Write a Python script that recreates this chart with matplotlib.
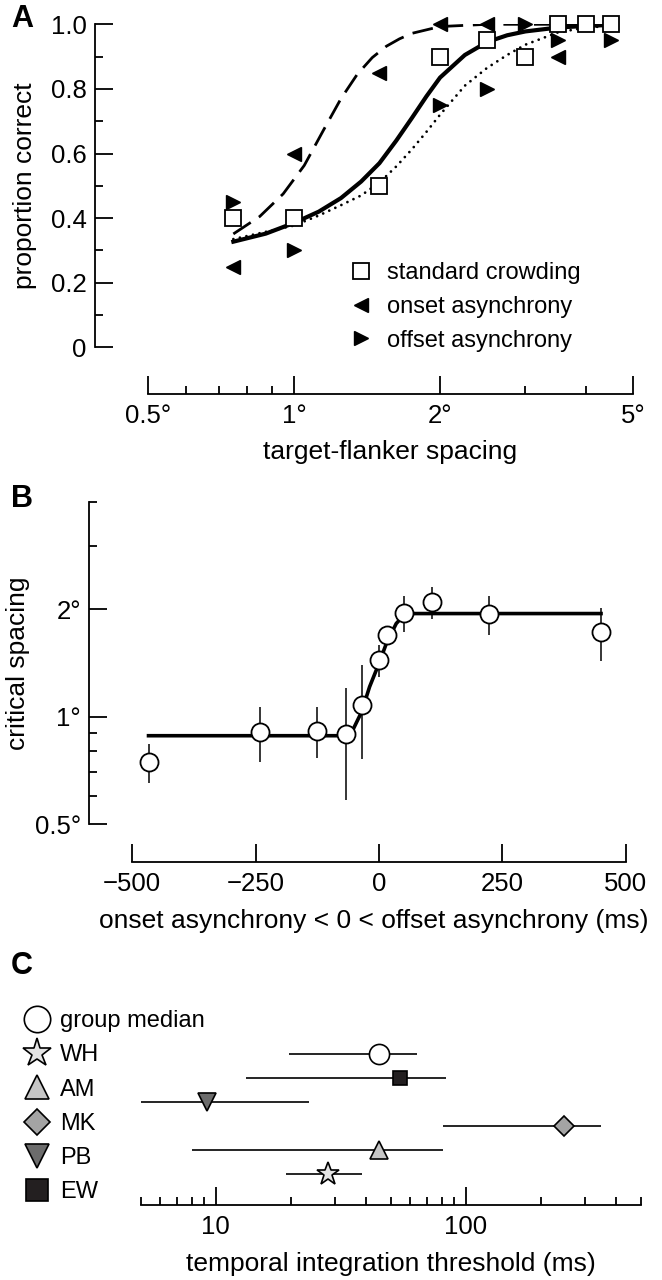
import matplotlib
matplotlib.use('Agg')
import matplotlib.pyplot as plt
from matplotlib.lines import Line2D
from matplotlib.ticker import NullFormatter

plt.rcParams['font.family'] = ['Liberation Sans', 'DejaVu Sans']

# ---- panel A : proportion correct vs spacing
sp_std = [0.75, 1.0, 1.5, 2.0, 2.5, 3.0, 3.5, 4.0, 4.5]
pc_std = [0.40, 0.40, 0.50, 0.90, 0.95, 0.90, 1.00, 1.00, 1.00]
sp_on = [0.75, 1.0, 1.5, 2.0, 2.5, 3.5]
pc_on = [0.25, 0.60, 0.85, 1.00, 1.00, 0.90]
sp_off = [0.75, 1.0, 2.0, 2.5, 3.0, 3.5, 4.5]
pc_off = [0.45, 0.30, 0.75, 0.80, 1.00, 0.95, 0.95]

# fitted curves
fit_std_x = [0.75, 0.875, 1.0, 1.125, 1.25, 1.375, 1.5, 1.625, 1.75, 1.875, 2.0, 2.25, 2.5, 2.75, 3.0, 3.5, 4.0, 4.5]
fit_std_y = [0.327, 0.352, 0.385, 0.42, 0.462, 0.513, 0.57, 0.64, 0.71, 0.777, 0.835, 0.905, 0.945, 0.966, 0.978, 0.99, 0.995, 0.998]
fit_on_x = [0.75, 0.85, 0.95, 1.05, 1.15, 1.25, 1.35, 1.45, 1.55, 1.65, 1.75, 2.0, 2.5, 3.0, 4.5]
fit_on_y = [0.351, 0.405, 0.475, 0.563, 0.672, 0.77, 0.845, 0.897, 0.932, 0.955, 0.972, 0.993, 1.0, 1.0, 1.0]
fit_off_x = [0.75, 1.0, 1.125, 1.25, 1.375, 1.5, 1.625, 1.75, 1.875, 2.0, 2.25, 2.5, 2.75, 3.0, 3.5, 4.0, 4.5]
fit_off_y = [0.335, 0.377, 0.408, 0.44, 0.47, 0.51, 0.56, 0.613, 0.667, 0.72, 0.81, 0.865, 0.905, 0.937, 0.975, 0.99, 0.995]

# ---- panel B : critical spacing vs asynchrony
soa = [-467, -242, -125, -67, -35, 0, 16, 50, 108, 224, 450]
crit = [0.746, 0.905, 0.912, 0.893, 1.078, 1.44, 1.69, 1.957, 2.096, 1.945, 1.728]
crit_lo = [0.654, 0.749, 0.765, 0.585, 0.762, 1.293, 1.63, 1.728, 1.88, 1.69, 1.434]
crit_hi = [0.839, 1.062, 1.066, 1.20, 1.395, 1.587, 1.76, 2.175, 2.31, 2.175, 2.02]
fitB_x = [-467, -68, -53, -35, -19, 0, 15, 35, 50, 66, 450]
fitB_y = [0.885, 0.885, 0.918, 1.033, 1.213, 1.41, 1.604, 1.824, 1.92, 1.945, 1.945]

# ---- panel C : temporal integration thresholds
obs_names = ['group median', 'WH', 'AM', 'MK', 'PB', 'EW']
obs_marker = ['o', '*', '^', 'D', 'v', 's']
obs_color = ['white', '#e4e4e4', '#c6c6c6', '#a4a4a4', '#6c6c6c', '#231f20']
# rows from top to bottom of the plot
row_names = ['group median', 'EW', 'PB', 'MK', 'AM', 'WH']
thr = [45.1, 54.6, 9.2, 247, 45.1, 28.0]
thr_lo = [19.7, 13.2, 5.0, 81.3, 8.06, 19.1]
thr_hi = [63.7, 83.2, 23.5, 347, 81.3, 38.5]

W, H = 662, 1280
fig = plt.figure(figsize=(W / 100, H / 100), dpi=100)


def box(x0, y0, x1, y1):
    return [x0 / W, 1 - y1 / H, (x1 - x0) / W, (y1 - y0) / H]


def pt(px):
    return px * 0.72


TICK = 18.5
LAB = 19
LEG = 17

# ================= A
axA = fig.add_axes(box(95, 24.3, 641, 347.3))
axA.plot(fit_on_x, fit_on_y, color='k', lw=2.0, ls=(0, (7.5, 3.5)), zorder=2)
axA.plot(fit_off_x, fit_off_y, color='k', lw=2.0, ls=(0, (0.01, 2.4)),
         dash_capstyle='round', zorder=2)
axA.plot(fit_std_x, fit_std_y, color='k', lw=3.0, zorder=3)
axA.plot(sp_on, pc_on, ls='none', marker='<', ms=10.5, color='k', clip_on=False, zorder=4)
axA.plot(sp_off, pc_off, ls='none', marker='>', ms=10.5, color='k', clip_on=False, zorder=4)
axA.plot(sp_std, pc_std, ls='none', marker='s', ms=12, mfc='white', mec='k', mew=1.3,
         clip_on=False, zorder=5)
axA.set_xscale('log')
axA.set_xlim(0.389, 5.19)
axA.set_ylim(0, 1)
axA.set_xticks([0.5, 1, 2, 5])
axA.set_xticklabels(['0.5°', '1°', '2°', '5°'])
axA.set_xticks([0.6, 0.7, 0.8, 0.9, 3, 4], minor=True)
axA.xaxis.set_minor_formatter(NullFormatter())
axA.set_yticks([0, 0.2, 0.4, 0.6, 0.8, 1.0])
axA.set_yticklabels(['0', '0.2', '0.4', '0.6', '0.8', '1.0'])
axA.set_yticks([0.1, 0.3, 0.5, 0.7, 0.9], minor=True)
axA.spines['bottom'].set_position(('outward', pt(47)))
axA.spines['bottom'].set_bounds(0.5, 5)
axA.spines['left'].set_bounds(0, 1)
axA.set_xlabel('target-flanker spacing', fontsize=LAB)
axA.set_ylabel('proportion correct', fontsize=LAB)
axA.xaxis.set_label_coords((390 - 95) / 546, (347.3 - 440) / 323)
axA.yaxis.set_label_coords((37 - 95) / 546, 0.5)
axA.legend(handles=[Line2D([], [], ls='none', marker='s', ms=12, mfc='white', mec='k', mew=1.3),
                    Line2D([], [], ls='none', marker='<', ms=10.5, color='k'),
                    Line2D([], [], ls='none', marker='>', ms=10.5, color='k')],
           labels=['standard crowding', 'onset asynchrony', 'offset asynchrony'],
           loc='upper left', bbox_to_anchor=(349 / W, 1 - 262 / H), bbox_transform=fig.transFigure,
           frameon=False, fontsize=LEG, borderpad=0, borderaxespad=0, handlelength=1.0,
           handletextpad=0.6, labelspacing=0.5)

# ================= B
axB = fig.add_axes(box(89.3, 501.7, 640, 824.3))
axB.vlines(soa, crit_lo, crit_hi, color='k', lw=1.1, zorder=2)
axB.plot(fitB_x, fitB_y, color='k', lw=2.6, zorder=3)
axB.plot(soa, crit, ls='none', marker='o', ms=13, mfc='white', mec='k', mew=1.3, zorder=4)
axB.set_yscale('log', base=2)
axB.set_ylim(0.5, 4)
axB.set_xlim(-587, 529)
axB.set_yticks([0.5, 1, 2])
axB.set_yticklabels(['0.5°', '1°', '2°'])
axB.set_yticks([0.6, 0.7, 0.8, 0.9, 3, 4], minor=True)
axB.yaxis.set_minor_formatter(NullFormatter())
axB.set_xticks([-500, -250, 0, 250, 500])
axB.set_xticklabels(['\u2212500', '\u2212250', '0', '250', '500'])
axB.spines['bottom'].set_position(('outward', pt(37.7)))
axB.spines['bottom'].set_bounds(-500, 500)
axB.spines['left'].set_bounds(0.5, 4)
axB.set_xlabel('onset asynchrony < 0 < offset asynchrony (ms)', fontsize=LAB)
axB.set_ylabel('critical spacing', fontsize=LAB)
axB.xaxis.set_label_coords((374 - 89.3) / 550.7, (824.3 - 909) / 322.6)
axB.yaxis.set_label_coords((30 - 89.3) / 550.7, 0.5)

# ================= C
axC = fig.add_axes(box(140.5, 1030, 640.7, 1205))
for i, name in enumerate(row_names):
    k = obs_names.index(name)
    axC.hlines(i, thr_lo[i], thr_hi[i], color='k', lw=1.2, zorder=2)
    ms = {'o': 14.5, '*': 17, '^': 13.5, 'D': 10, 'v': 13.5, 's': 10.5}[obs_marker[k]]
    axC.plot(thr[i], i, ls='none', marker=obs_marker[k], ms=ms, mfc=obs_color[k],
             mec='k', mew=1.2, zorder=3)
axC.set_xscale('log')
axC.set_xlim(5, 500)
axC.set_ylim(6.28, -1.01)
axC.set_yticks([])
axC.set_xticks([10, 100])
axC.set_xticklabels(['10', '100'])
axC.set_xticks([5, 6, 7, 8, 9, 20, 30, 40, 50, 60, 70, 80, 90, 200, 300, 400, 500], minor=True)
axC.xaxis.set_minor_formatter(NullFormatter())
axC.set_xlabel('temporal integration threshold (ms)', fontsize=LAB)
axC.xaxis.set_label_coords(0.5, (1205 - 1252) / 175)
for s in ['left', 'top', 'right']:
    axC.spines[s].set_visible(False)
leg_ms = {'o': 19, '*': 21, '^': 17, 'D': 13.5, 'v': 17, 's': 16}
axC.legend(handles=[Line2D([], [], ls='none', marker=m, ms=leg_ms[m], mfc=c, mec='k', mew=1.2)
                    for m, c in zip(obs_marker, obs_color)],
           labels=obs_names, loc='upper left', bbox_to_anchor=(25 / W, 1 - 1010 / H),
           bbox_transform=fig.transFigure, frameon=False, fontsize=LEG, borderpad=0,
           borderaxespad=0, handlelength=1.0, handletextpad=0.47, labelspacing=0.52)

for ax in (axA, axB):
    for s in ['top', 'right']:
        ax.spines[s].set_visible(False)
for ax in (axA, axB, axC):
    for s in ax.spines.values():
        s.set_linewidth(1.3)
    ax.tick_params(which='both', direction='in', width=1.3, labelsize=TICK)
    ax.tick_params(which='major', length=13)
    ax.tick_params(which='minor', length=6)
    ax.tick_params(axis='y', pad=6)
    ax.tick_params(axis='x', pad=7)

fig.text(22 / W, 1 - 19 / H, 'A', ha='center', va='center', fontsize=22, fontweight='bold')
fig.text(22 / W, 1 - 499 / H, 'B', ha='center', va='center', fontsize=22, fontweight='bold')
fig.text(22 / W, 1 - 966 / H, 'C', ha='center', va='center', fontsize=22, fontweight='bold')

fig.savefig('out.png', dpi=100)
